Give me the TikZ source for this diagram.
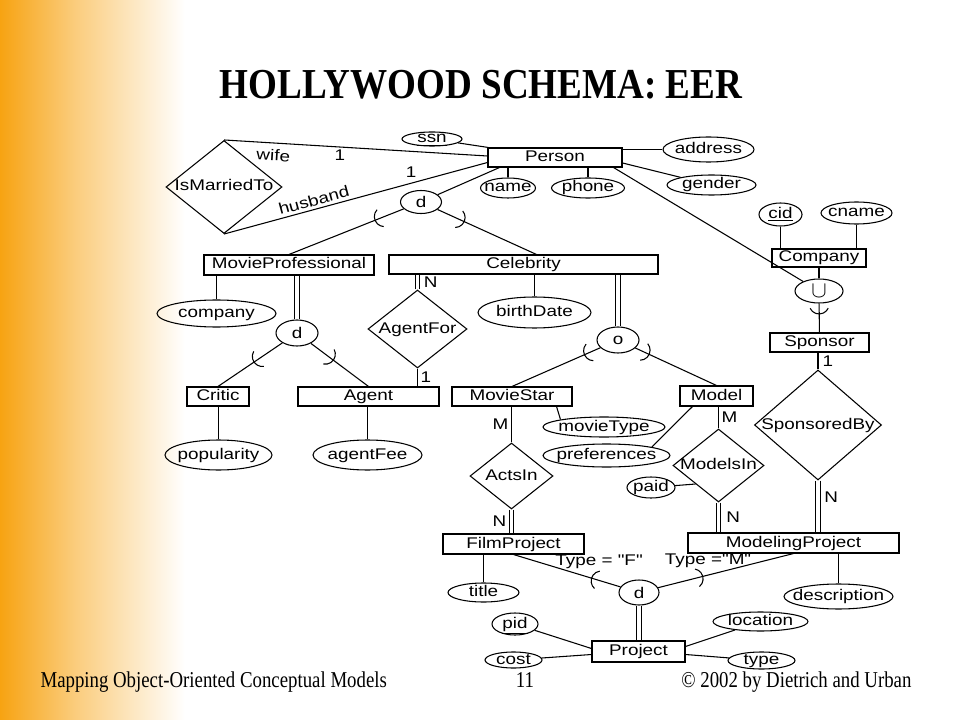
\documentclass[tikz,border=0pt]{standalone}
\usepackage{fontspec}
\usepackage{tikz}
\usetikzlibrary{shapes.geometric,decorations.markings,calc}
\newfontfamily\erfont[FakeStretch=1.22,Ligatures=TeXOff]{Liberation Sans}
\newfontfamily\titlefont[FakeStretch=0.87]{Liberation Serif}
\newfontfamily\footfont[FakeStretch=0.83]{Liberation Serif}
\definecolor{slideorange}{RGB}{247,163,18}
\newlength{\pxl}\setlength{\pxl}{0.75pt}
\newcommand{\zw}[1]{\makebox[0pt]{#1}}

\begin{document}
\begin{tikzpicture}[x=0.75pt, y=-0.75pt, line width=0.8pt,
  font=\erfont\fontsize{11.6}{13}\selectfont,
  subset/.style={postaction={decorate, decoration={markings,
    mark=at position #1 with {\draw[line width=0.8pt] (-4.3pt,-6.8pt) arc[start angle=-65, end angle=65, radius=7.5pt];}}}}]
\tikzstyle{every node}=[inner sep=0pt]
\tikzstyle{ent}=[draw, rectangle, minimum height=19\pxl, text height=8.3pt, text depth=2.3pt]
\tikzstyle{rel}=[draw, diamond, text height=8.3pt, text depth=2.3pt]
\tikzstyle{att}=[draw, ellipse, inner ysep=-1.8pt, text height=8.3pt, text depth=2.3pt]
\tikzstyle{spec}=[draw, ellipse, minimum width=42\pxl, minimum height=25\pxl]
\tikzstyle{dbl}=[double, double distance=2.4pt, line width=0.7pt]

\useasboundingbox (0,0) rectangle (960,720);
\fill[white] (0,0) rectangle (960,720);
\shade[left color=slideorange, right color=slideorange!55] (0,0) rectangle (75,720);
\shade[left color=slideorange!55, right color=white] (75,0) rectangle (185,720);

\node[font=\titlefont\bfseries\fontsize{32}{36}\selectfont] (title) at (481,85) {HOLLYWOOD SCHEMA: EER};
\node[font=\footfont\fontsize{17}{20}\selectfont, anchor=base west] (footl) at (40,687) {Mapping Object-Oriented Conceptual Models};
\node[font=\footfont\fontsize{17}{20}\selectfont, anchor=base] (footn) at (525,687) {11};
\node[font=\footfont\fontsize{17}{20}\selectfont, anchor=base east] (footr) at (912,687) {© 2002 by Dietrich and Urban};

\node[ent, minimum width=134\pxl] (Person) at (555,157.5) {Person};
\node[ent, minimum width=170\pxl, minimum height=20\pxl] (MP) at (289,265) {MovieProfessional};
\node[ent, minimum width=269\pxl] (Cel) at (523.5,264.5) {Celebrity};
\node[ent, minimum width=94\pxl, minimum height=18\pxl] (Company) at (819,258) {Company};
\node[ent, minimum width=99\pxl] (Sponsor) at (819.5,342.5) {Sponsor};
\node[ent, minimum width=62\pxl] (Critic) at (218,396.5) {Critic};
\node[ent, minimum width=141\pxl] (Agent) at (368.5,396.5) {Agent};
\node[ent, minimum width=120\pxl] (MovieStar) at (512,396.5) {MovieStar};
\node[ent, minimum width=73\pxl, minimum height=20\pxl] (Model) at (716.5,396) {Model};
\node[ent, minimum width=141\pxl, minimum height=20\pxl] (FP) at (513.5,544) {FilmProject};
\node[ent, minimum width=211\pxl, minimum height=20\pxl] (MdP) at (793.5,543) {ModelingProject};
\node[ent, minimum width=93\pxl, minimum height=21\pxl] (Project) at (638.5,651.5) {Project};

\node[rel, minimum width=116\pxl, minimum height=93\pxl] (IMT) at (224,187) {\zw{IsMarriedTo}};
\node[rel, minimum width=99\pxl, minimum height=78\pxl] (AF) at (417.5,329) {\zw{AgentFor}};
\node[rel, minimum width=83\pxl, minimum height=66\pxl] (AI) at (511.5,476) {\zw{ActsIn}};
\node[rel, minimum width=91\pxl, minimum height=73\pxl] (MI) at (718.5,465.5) {\zw{ModelsIn}};
\node[rel, minimum width=127\pxl, minimum height=110\pxl] (SB) at (818,425) {\zw{SponsoredBy}};

\node[att, minimum width=60\pxl, minimum height=14\pxl] (ssn) at (432,139) {\zw{\underline{ssn}}};
\node[att, minimum width=55\pxl, minimum height=20\pxl] (name) at (508,188) {\zw{name}};
\node[att, minimum width=73\pxl, minimum height=20\pxl] (phone) at (588,188) {\zw{phone}};
\node[att, minimum width=91\pxl, minimum height=25\pxl] (address) at (708.5,149.5) {\zw{address}};
\node[att, minimum width=89\pxl, minimum height=20\pxl] (gender) at (711.5,185) {\zw{gender}};
\node[att, minimum width=43\pxl, minimum height=23\pxl] (cid) at (780.5,214.5) {\zw{\underline{cid}}};
\node[att, minimum width=71\pxl, minimum height=22\pxl] (cname) at (856.5,213) {\zw{cname}};
\node[att, minimum width=119\pxl, minimum height=27\pxl] (company) at (216.5,313.5) {\zw{company}};
\node[att, minimum width=113\pxl, minimum height=31\pxl] (birthDate) at (534.5,312.5) {\zw{birthDate}};
\node[att, minimum width=107\pxl, minimum height=30\pxl] (popularity) at (218.5,455) {\zw{popularity}};
\node[att, minimum width=109\pxl, minimum height=30\pxl] (agentFee) at (367.5,455) {\zw{agentFee}};
\node[att, minimum width=122\pxl, minimum height=20\pxl] (movieType) at (604,427) {\zw{movieType}};
\node[att, minimum width=127\pxl, minimum height=23\pxl] (preferences) at (606.5,455.5) {\zw{preferences}};
\node[att, minimum width=48\pxl, minimum height=21\pxl] (paid) at (651,487.5) {\zw{paid}};
\node[att, minimum width=71\pxl, minimum height=19\pxl] (title) at (483.5,592.5) {\zw{title}};
\node[att, minimum width=109\pxl, minimum height=25\pxl] (description) at (838.5,596.5) {\zw{description}};
\node[att, minimum width=46\pxl, minimum height=22\pxl] (pid) at (515,624) {\zw{\underline{pid}}};
\node[att, minimum width=57\pxl, minimum height=16\pxl] (cost) at (513.5,660) {\zw{cost}};
\node[att, minimum width=95\pxl, minimum height=19\pxl] (location) at (760.5,621.5) {\zw{location}};
\node[att, minimum width=67\pxl, minimum height=17\pxl] (type) at (761.5,660.5) {\zw{type}};

\node[spec, minimum width=41\pxl, minimum height=23\pxl] (d1) at (421,202) {d};
\node[spec, minimum height=26\pxl] (d2) at (297,333) {d};
\node[spec, minimum height=26\pxl] (o) at (618,340) {o};
\node[spec, minimum width=48\pxl, minimum height=24\pxl] (U) at (819,291) {\fontsize{17}{17}\selectfont$\cup$};
\node[spec, minimum width=40\pxl] (d3) at (639,592.5) {d};

\draw (ssn) -- (Person);
\draw (IMT.north) -- node[pos=.19, below=4.5pt, sloped] {wife} node[pos=.44, below=2pt] {1} ([yshift=1.5\pxl]Person.west);
\draw (IMT.south) -- node[pos=.35, above=2.2pt, sloped] {husband} node[pos=.71, above=4pt] {1} ([yshift=-5\pxl]Person.west);
\draw ([xshift=12\pxl]Person.south west) -- (d1);
\draw (name) -- (name |- Person.south);
\draw (phone) -- (phone |- Person.south);
\draw (address) -- (address -| Person.east);
\draw (gender) -- ([yshift=-5.5\pxl]Person.east);
\draw ([xshift=-9\pxl]Person.south east) -- (U);
\draw (cid) -- (cid |- Company.north);
\draw (cname) -- (cname |- Company.north);
\draw (Company) -- (U);
\draw[subset=.36] (U) -- (Sponsor);

\draw[subset=.25] (d1) -- (MP.north);
\draw[subset=.27] (d1) -- ([xshift=13\pxl]Cel.north);
\draw (company) -- (company |- MP.south);
\draw[dbl] (d2) -- (d2 |- MP.south);
\draw[subset=.44] (d2) -- (Critic.north);
\draw[subset=.39] (d2) -- (Agent.north);
\draw (popularity) -- (popularity |- Critic.south);
\draw (agentFee) -- (agentFee |- Agent.south);
\draw[dbl] (AF.north) -- node[right=4.5pt] {N} (AF.north |- Cel.south);
\draw (AF.south) -- node[right=2pt] {1} (AF.south |- Agent.north);
\draw (birthDate) -- (birthDate |- Cel.south);
\draw[dbl] (o) -- (o |- Cel.south);
\draw[subset=.18] (o) -- (MovieStar.north);
\draw[subset=.17] (o) -- (Model.north);
\draw (movieType.north west) -- ([xshift=-16\pxl]MovieStar.south east);
\draw (preferences.north east) -- ([xshift=13\pxl]Model.south west);
\draw (AI.north) -- node[left=2pt] {M} (AI.north |- MovieStar.south);
\draw[dbl] (AI.south) -- node[left=3.5pt] {N} (AI.south |- FP.north);
\draw (MI.north) -- node[right=2pt] {M} (MI.north |- Model.south);
\draw (paid) -- (MI.south west);
\draw[dbl] (MI.south) -- node[right=5.5pt] {N} (MI.south |- MdP.north);
\draw (SB.north) -- node[right=3pt] {1} (SB.north |- Sponsor.south);
\draw[dbl] (SB.south) -- node[pos=.32, right=4.5pt] {N} (SB.south |- MdP.north);

\draw (title) -- (title |- FP.south);
\draw[subset=.27] (d3) -- node[pos=.25, above=7.5pt, xshift=4pt] {Type = "F"} (FP.south);
\draw[subset=.33] (d3) -- node[pos=.3, above=6.8pt, xshift=7pt] {Type ="M"} (MdP.south);
\draw (description) -- (description |- MdP.south);
\draw[dbl] (d3) -- (d3 |- Project.north);
\draw (pid) -- ([yshift=3\pxl]Project.west);
\draw (cost) -- ([yshift=-3\pxl]Project.west);
\draw (location) -- ([yshift=5\pxl]Project.east);
\draw (type) -- ([yshift=-3\pxl]Project.east);
\end{tikzpicture}
\end{document}
